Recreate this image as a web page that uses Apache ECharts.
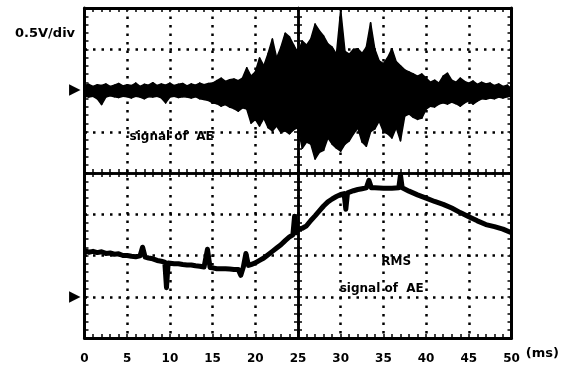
<!DOCTYPE html>
<html><head><meta charset="utf-8">
<script src="https://cdn.jsdelivr.net/npm/echarts@6/dist/echarts.min.js"></script>
<style>html,body{margin:0;padding:0;background:#fff}#c{width:579px;height:370px}</style>
</head><body><div id="c"></div>
<script>
// ---- data (time in ms, amplitude in screen divisions from bottom) ----
const xTickLabels = ['0','5','10','15','20','25','30','35','40','45','50'];
const channelMarkers = [6, 1];            // ground-level markers of the two channels
const aeTime = [0,0.5,1,1.5,2,2.5,3,3.5,4,4.5,5,5.5,6,6.5,7,7.5,8,8.5,9,9.5,10,10.5,11,11.5,12,12.5,13,13.5,14,14.5,15,15.5,16,16.5,17,17.5,18,18.5,19,19.5,20,20.5,21,21.5,22,22.5,23,23.5,24,24.5,25,25.5,26,26.5,27,27.5,28,28.5,29,29.5,30,30.5,31,31.5,32,32.5,33,33.5,34,34.5,35,35.5,36,36.5,37,37.5,38,38.5,39,39.5,40,40.5,41,41.5,42,42.5,43,43.5,44,44.5,45,45.5,46,46.5,47,47.5,48,48.5,49,49.5,50];
const aeHigh = [6.12,6.15,6.10,6.14,6.12,6.16,6.10,6.13,6.17,6.11,6.14,6.12,6.18,6.10,6.15,6.13,6.19,6.12,6.16,6.13,6.18,6.12,6.15,6.17,6.11,6.16,6.13,6.18,6.14,6.17,6.18,6.24,6.30,6.22,6.26,6.28,6.24,6.30,6.55,6.35,6.45,6.79,6.60,6.90,7.25,6.79,7.05,7.39,7.30,7.10,6.91,7.20,7.10,7.25,7.61,7.45,7.32,7.13,7.05,6.88,7.95,6.95,6.88,7.00,7.01,6.90,7.05,7.64,7.00,6.72,6.65,6.80,7.01,6.70,6.60,6.50,6.45,6.40,6.35,6.40,6.30,6.20,6.25,6.18,6.35,6.42,6.25,6.20,6.30,6.22,6.18,6.23,6.15,6.20,6.16,6.18,6.12,6.16,6.10,6.13,6.04];
const aeLow = [5.86,5.84,5.86,5.80,5.66,5.84,5.87,5.85,5.83,5.86,5.85,5.82,5.86,5.84,5.80,5.85,5.84,5.86,5.82,5.70,5.84,5.86,5.83,5.85,5.84,5.82,5.85,5.80,5.78,5.76,5.70,5.68,5.62,5.66,5.60,5.56,5.50,5.58,5.55,5.21,5.30,5.14,5.33,5.10,5.02,5.14,4.98,5.02,4.95,5.05,5.10,4.60,4.75,4.70,4.34,4.50,4.55,4.85,4.70,4.60,4.53,4.70,4.78,4.95,5.09,4.75,4.65,5.00,5.07,5.26,5.00,4.95,4.85,5.10,4.78,5.38,5.43,5.35,5.30,5.33,5.55,5.62,5.60,5.67,5.70,5.67,5.72,5.68,5.62,5.70,5.75,5.67,5.74,5.80,5.79,5.82,5.80,5.84,5.82,5.85,5.86];
const rmsTime = [0,0.5,1,1.5,2,2.5,3,3.5,4,4.5,5,5.5,6,6.5,6.8,7.1,7.5,8,8.5,9,9.4,9.6,9.8,10,10.5,11,11.5,12,12.5,13,13.5,14,14.4,14.7,15,15.5,16,16.5,17,17.5,18,18.3,18.6,18.9,19.2,19.5,20,20.5,21,21.5,22,22.5,23,23.5,24,24.4,24.6,24.8,25,25.5,26,26.5,27,27.5,28,28.5,29,29.5,30,30.4,30.6,30.8,31,31.5,32,32.5,33,33.3,33.6,34,35,36,36.8,37,37.2,38,39,40,41,42,43,44,45,46,47,48,49,50];
const rmsValue = [2.12,2.08,2.10,2.07,2.09,2.05,2.06,2.03,2.04,2.00,2.00,1.98,1.97,1.99,2.20,1.96,1.94,1.92,1.88,1.86,1.84,1.22,1.82,1.82,1.80,1.80,1.78,1.77,1.77,1.75,1.74,1.72,2.15,1.71,1.70,1.68,1.68,1.68,1.67,1.66,1.66,1.52,1.72,2.05,1.76,1.78,1.82,1.88,1.94,2.02,2.10,2.18,2.26,2.36,2.45,2.50,2.95,2.55,2.64,2.66,2.72,2.85,2.96,3.08,3.20,3.30,3.37,3.43,3.48,3.50,3.12,3.52,3.54,3.57,3.60,3.62,3.64,3.82,3.64,3.64,3.63,3.63,3.64,3.95,3.64,3.56,3.47,3.39,3.31,3.24,3.15,3.04,2.94,2.84,2.75,2.70,2.64,2.55];
const noteText = ['signal of  AE', 'RMS', 'signal of  AE'];
const noteTime = [10.2, 36.5, 34.8];
const noteLevel = [4.87, 1.84, 1.19];

// ---- chart ----
const FONT = 'DejaVu Sans';
const K = '#000';
const dotted = {show:true, lineStyle:{color:K, width:2.5, type:[2.5,6], cap:'butt'}};
const aeData = aeTime.map((t,i)=>[t, aeLow[i], aeHigh[i]]);
const rmsPts = rmsTime.map((t,i)=>[t, rmsValue[i]]);
const notes = noteText.map((s,i)=>({name:s, value:[noteTime[i], noteLevel[i]]}));

const borderLine = {show:true, onZero:false, lineStyle:{color:K, width:3}};
const tickIn = {show:true, inside:true, length:4, lineStyle:{color:K, width:1.5}};
const tickOut = {show:true, inside:false, length:4, lineStyle:{color:K, width:1.5}};

function renderEnvelope(params, api) {
  const i = params.dataIndex;
  if (i >= aeTime.length - 1) return null;
  const pts = [
    api.coord([aeTime[i], aeHigh[i]]),
    api.coord([aeTime[i+1], aeHigh[i+1]]),
    api.coord([aeTime[i+1], aeLow[i+1]]),
    api.coord([aeTime[i], aeLow[i]])
  ];
  return {type:'polygon', shape:{points:pts}, style:{fill:K, stroke:K, lineWidth:1.5, lineJoin:'round'}};
}

const chart = echarts.init(document.getElementById('c'), null, {renderer:'canvas'});
chart.setOption({
  animation:false,
  backgroundColor:'#fff',
  title:{text:'0.5V/div', left:10, top:22, textStyle:{fontFamily:FONT, fontWeight:'bold', fontSize:13, color:K}},
  grid:{left:84.5, right:67.5, top:8, bottom:32},
  xAxis:[
    {type:'value', position:'bottom', min:0, max:50, interval:5,
     axisLine:borderLine, axisTick:tickIn, minorTick:{show:true, splitNumber:5, length:4, lineStyle:{color:K, width:1.5}},
     splitLine:dotted,
     axisLabel:{margin:15, fontFamily:FONT, fontWeight:'bold', fontSize:12, color:K,
       formatter:(v)=>xTickLabels[Math.round(v/5)]},
     name:'(ms)', nameLocation:'end', nameGap:12,
     nameTextStyle:{fontFamily:FONT, fontWeight:'bold', fontSize:13, color:K, verticalAlign:'top', padding:[9,0,0,0]}},
    {type:'value', position:'top', min:0, max:50, interval:1,
     axisLine:borderLine, axisTick:tickIn, axisLabel:{show:false}, splitLine:{show:false}},
    {type:'value', position:'bottom', min:0, max:50, interval:1,
     axisLine:{show:true, onZero:true, onZeroAxisIndex:2, lineStyle:{color:K, width:2.5}},
     axisTick:tickIn, axisLabel:{show:false}, splitLine:{show:false}},
    {type:'value', position:'bottom', min:0, max:50, interval:1,
     axisLine:{show:true, onZero:true, onZeroAxisIndex:2, lineStyle:{color:K, width:2.5}},
     axisTick:tickOut, axisLabel:{show:false}, splitLine:{show:false}},
    {type:'value', position:'top', min:-25, max:25, show:false}
  ],
  yAxis:[
    {type:'value', position:'left', min:0, max:8, interval:1,
     axisLine:borderLine, axisTick:tickIn, minorTick:{show:true, splitNumber:5, length:4, lineStyle:{color:K, width:1.5}},
     splitLine:dotted,
     axisLabel:{margin:4, fontFamily:FONT, fontSize:15, color:K,
       formatter:(v)=>channelMarkers.indexOf(Math.round(v))>=0 && Math.abs(v-Math.round(v))<1e-6 ? '\u25B6' : ''}},
    {type:'value', position:'right', min:0, max:8, interval:0.2,
     axisLine:borderLine, axisTick:tickIn, axisLabel:{show:false}, splitLine:{show:false}},
    {type:'value', position:'left', min:-4, max:4, show:false},
    {type:'value', position:'left', min:0, max:8, interval:0.2,
     axisLine:{show:true, onZero:true, onZeroAxisIndex:4, lineStyle:{color:K, width:2.5}},
     axisTick:tickIn, axisLabel:{show:false}, splitLine:{show:false}},
    {type:'value', position:'left', min:0, max:8, interval:0.2,
     axisLine:{show:true, onZero:true, onZeroAxisIndex:4, lineStyle:{color:K, width:2.5}},
     axisTick:tickOut, axisLabel:{show:false}, splitLine:{show:false}}
  ],
  series:[
    {type:'custom', name:'AE', data:aeData, encode:{x:0, y:[1,2]}, renderItem:renderEnvelope, z:5, silent:true},
    {type:'line', name:'RMS', data:rmsPts, symbol:'none', z:5,
     lineStyle:{color:K, width:5, join:'round'}},
    {type:'scatter', data:notes, symbolSize:0, z:6, silent:true,
     itemStyle:{opacity:1}, emphasis:{disabled:true},
     label:{show:true, position:'inside', formatter:(p)=>p.name, opacity:1, textBorderWidth:0,
       fontFamily:FONT, fontWeight:'bold', fontSize:12, color:K}}
  ]
});
</script></body></html>
